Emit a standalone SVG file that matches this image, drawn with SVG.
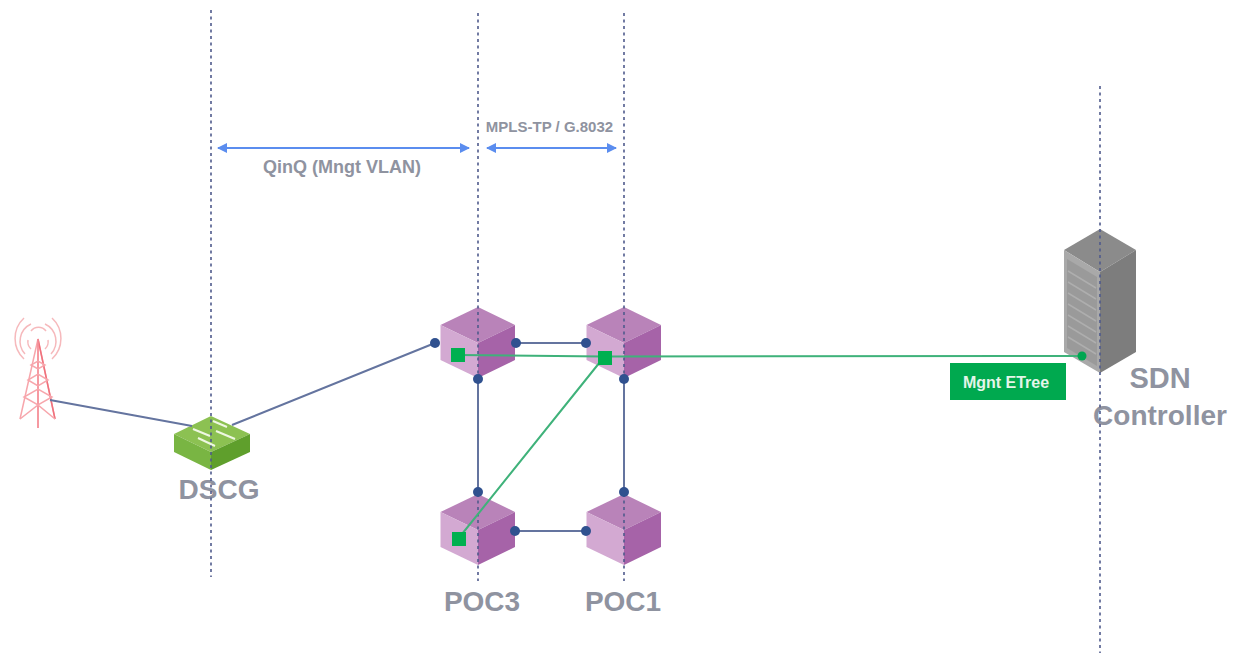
<svg xmlns="http://www.w3.org/2000/svg" xmlns:xlink="http://www.w3.org/1999/xlink" width="1241" height="653" viewBox="0 0 1241 653">
<style>
text{font-family:"Liberation Sans",Arial,sans-serif;font-weight:bold;fill:#8f93a0}
.big{font-size:29px;text-anchor:middle}
.guide{stroke:#4f5a8c;stroke-width:1.600;stroke-dasharray:3 3.500;fill:none}
.link{stroke:#64749f;stroke-width:2;fill:none}
.green{stroke:#3fb27a;stroke-width:2;fill:none}
.span{stroke:#5b8def;stroke-width:2;fill:none;marker-start:url(#ah);marker-end:url(#ah)}
.dot{fill:#30518f}
.sq{fill:#00b050}
.twr{stroke:#f7a6ac;stroke-width:1.500;fill:none}
.arc{stroke:#f6b9bc;stroke-width:1.500;fill:none}
</style>
<defs>
<marker id="ah" viewBox="0 0 10 10" refX="9" refY="5" markerWidth="5" markerHeight="5" orient="auto-start-reverse" markerUnits="strokeWidth"><path d="M0 0L10 5L0 10z" fill="#5b8def"/></marker>
<g id="cube">
<path d="M0 0L37 18L0 36L-37.500 18z" fill="#b983b9"/>
<path d="M-37.500 18L0 36V71L-37.500 53z" fill="#d3a9d2"/>
<path d="M37 18L0 36V71L37 53z" fill="#a663a8"/>
</g>
</defs>
<g id="tower">
<path class="twr" d="M38 339L20 419M38 339V428M38 339L55 419" />
<path d="M38 339L55 419" stroke="#f0717c" stroke-width="1.500" fill="none"/>
<path d="M38 339V428" stroke="#f58e97" stroke-width="1.500" fill="none"/>
<path class="twr" d="M31 365L38 369L45 365L38 361zM28 380L38 386L48 380L38 374zM24 397L38 405L52 397L38 389zM20 419L38 405L55 419"/>
<path class="arc" d="M31 331A9.500 9.500 0 0 1 46 331M31 349A10 10 0 0 1 28 340M45 349A10 10 0 0 0 48 340"/>
<path class="arc" d="M25 354A19 19 0 0 1 31 324M51 354A19 19 0 0 0 45 324"/>
<path class="arc" d="M24 359A28 28 0 0 1 24 318M52 359A28 28 0 0 0 52 318"/>
</g>
<g id="dscg">
<path d="M211 416L250 434L211 452L174 434z" fill="#8cc152"/>
<path d="M174 434L211 452V470L174 452z" fill="#79b543"/>
<path d="M250 434L211 452V470L250 452z" fill="#5f9f2c"/>
<path d="M213 421L227 427M193 429L210 436M216 431L235 439M198 438L215 446" stroke="#eef7e2" stroke-width="2" fill="none"/>
<text class="big" x="219" y="499" style="font-size:28px">DSCG</text>
</g>
<g id="poc3-top"><use href="#cube" x="478" y="307"/></g>
<g id="poc1-top"><use href="#cube" x="624" y="307"/></g>
<g id="poc3-bottom"><use href="#cube" x="478" y="494"/><text class="big" x="482" y="611" style="font-size:28px">POC3</text></g>
<g id="poc1-bottom"><use href="#cube" x="624" y="494"/><text class="big" x="623" y="611" style="font-size:28px">POC1</text></g>
<g id="sdn">
<path d="M1100 229L1136 250L1100 272L1064 250z" fill="#8b8b8b"/>
<path d="M1064 250L1100 272V373L1064 352z" fill="#a9a9a9"/>
<path d="M1136 250L1100 272V373L1136 352z" fill="#7d7d7d"/>
<path d="M1067 259L1097 277V366L1067 348z" fill="#9a9a9a"/>
<path d="M1068 271L1096 288M1068 282L1096 299M1068 293L1096 310M1068 304L1096 321M1068 315L1096 332M1068 326L1096 343M1068 337L1096 354" stroke="#aeaeae" stroke-width="1.500" fill="none"/>
<text class="big" x="1160" y="388">SDN</text>
<text class="big" x="1160" y="425" style="font-size:28px">Controller</text>
</g>
<g id="connectors">
<path class="guide" d="M211 10V577M478 13V581M624 13V581M1100 86V653"/>
<path class="link" d="M50 400L192 426M232 425L435 343M516 343H586M478 379V492M624 379V492M516 531H586"/>
<path class="green" d="M458 355L604 356.500L1082 356M604 357L458 539"/>
<path class="span" d="M218 148H469"/>
<path class="span" d="M487 148H616"/>
<g class="dot"><circle cx="435" cy="343" r="5"/><circle cx="516" cy="343" r="5"/><circle cx="586" cy="343" r="5"/><circle cx="478" cy="379" r="5"/><circle cx="624" cy="379" r="5"/><circle cx="478" cy="492" r="5"/><circle cx="624" cy="492" r="5"/><circle cx="515" cy="531" r="5"/><circle cx="586" cy="531" r="5"/></g>
<g class="sq"><rect x="451" y="348" width="14" height="14"/><rect x="598" y="351" width="14" height="14"/><rect x="452" y="532" width="14" height="14"/></g>
<circle cx="1082" cy="356" r="4.500" fill="#00a651"/>
</g>
<text x="342" y="173" text-anchor="middle" style="font-size:18px">QinQ (Mngt VLAN)</text>
<text x="549.500" y="132" text-anchor="middle" style="font-size:15px">MPLS-TP / G.8032</text>
<g id="etree"><rect x="950" y="363" width="116" height="37" fill="#00a94f"/><text x="1006" y="388" text-anchor="middle" style="font-size:16px;fill:#e4f5ea">Mgnt ETree</text></g>
</svg>
